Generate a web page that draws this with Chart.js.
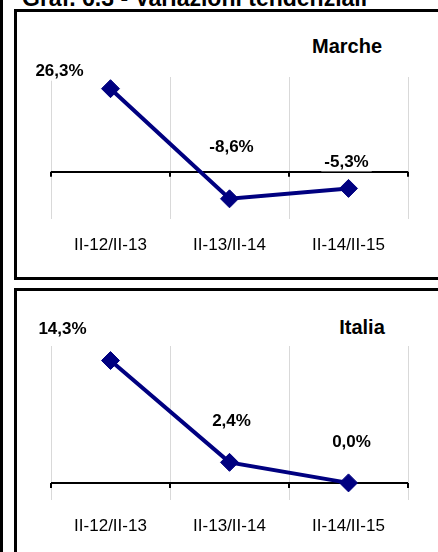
<!DOCTYPE html>
<html>
<head>
<meta charset="utf-8">
<script src="https://cdn.jsdelivr.net/npm/chart.js@4/dist/chart.umd.min.js"></script>
<style>
  body { margin: 0; width: 438px; height: 552px; overflow: hidden; background: #fff; position: relative; font-family: "Liberation Sans", Arial, sans-serif; }
  .bar { position: absolute; left: 0; top: 0; width: 3px; height: 552px; background: #000; }
  .title { position: absolute; left: 22px; top: -13.5px; font-size: 23px; line-height: 1; font-weight: bold; white-space: nowrap; }
  .panel { position: absolute; left: 14px; width: 440px; border: 3px solid #000; box-sizing: border-box; }
  .ptitle { position: absolute; width: 120px; text-align: center; font-size: 20px; line-height: 1; font-weight: bold; }
  canvas { position: absolute; left: 17px; }
</style>
</head>
<body>
<div class="bar"></div>
<div class="title">Graf. 6.3 - Variazioni tendenziali</div>
<div class="panel" style="top:9px;height:271px;"></div>
<div class="panel" style="top:288px;height:280px;"></div>
<div class="ptitle" style="left:287px;top:36px;">Marche</div>
<div class="ptitle" style="left:302px;top:317px;">Italia</div>
<canvas id="chartMarche" width="421" height="265" style="top:12px;"></canvas>
<canvas id="chartItalia" width="421" height="261" style="top:291px;"></canvas>
<script>
// data
const periods = ['II-12/II-13', 'II-13/II-14', 'II-14/II-15'];
const marcheValues = [26.3, -8.6, -5.3];
const italiaValues = [14.3, 2.4, 0.0];

// label offsets from the point (px), like the manual placement in the original
const marcheLabelOffsets = [[-51, -17], [2, -51], [-2, -26]];
const italiaLabelOffsets = [[-48, -31], [2, -41], [3, -41]];

const navy = '#000080';

function fmt(v) {
  return v.toFixed(1).replace('.', ',') + '%';
}

// tick marks on the zero line + value labels
const decoPlugin = {
  id: 'deco',
  beforeDatasetsDraw(chart) {
    const ctx = chart.ctx;
    const x = chart.scales.x, y = chart.scales.y;
    const y0 = y.getPixelForValue(0);
    ctx.save();
    ctx.strokeStyle = '#000';
    ctx.lineWidth = 2;
    for (let i = 0; i <= periods.length; i++) {
      const px = Math.round(x.getPixelForValue(i - 0.5));
      ctx.beginPath();
      ctx.moveTo(px, y0);
      ctx.lineTo(px, y0 + 5);
      ctx.stroke();
    }
    ctx.restore();
  },
  afterDatasetsDraw(chart, args, opts) {
    const ctx = chart.ctx;
    const meta = chart.getDatasetMeta(0);
    const vals = chart.data.datasets[0].data;
    ctx.save();
    ctx.font = 'bold 17px "Liberation Sans", Arial, sans-serif';
    ctx.textAlign = 'center';
    ctx.textBaseline = 'middle';
    meta.data.forEach((pt, i) => {
      const off = opts.offsets[i];
      const tx = pt.x + off[0], ty = pt.y + off[1];
      const txt = fmt(vals[i]);
      const w = ctx.measureText(txt).width;
      ctx.fillStyle = '#fff';
      ctx.fillRect(tx - w / 2 - 3, ty - 9, w + 6, 18);
      ctx.fillStyle = '#000';
      ctx.fillText(txt, tx, ty);
    });
    ctx.restore();
  }
};

function makeChart(id, values, yMin, yMax, step, offsets, padTop, xHeight) {
  return new Chart(document.getElementById(id), {
    type: 'line',
    data: {
      labels: periods,
      datasets: [{
        data: values,
        borderColor: navy,
        borderWidth: 4,
        backgroundColor: navy,
        pointStyle: 'rectRot',
        pointRadius: 9,
        pointBorderWidth: 1,
        pointBackgroundColor: navy,
        pointBorderColor: navy,
        tension: 0,
        fill: false
      }]
    },
    options: {
      responsive: false,
      animation: false,
      devicePixelRatio: 1,
      layout: { padding: { left: 34, right: 30, top: padTop, bottom: 0 } },
      plugins: {
        legend: { display: false },
        tooltip: { enabled: false },
        deco: { offsets: offsets }
      },
      scales: {
        x: {
          offset: true,
          grid: { offset: true, color: '#d9d9d9', lineWidth: 1, drawTicks: false },
          border: { display: false },
          ticks: { color: '#000', padding: 16, font: { family: '"Liberation Sans", Arial, sans-serif', size: 17 } },
          afterFit(scale) { scale.height = xHeight; }
        },
        y: {
          min: yMin,
          max: yMax,
          ticks: { display: false, stepSize: step },
          border: { display: false },
          grid: {
            drawTicks: false,
            color: c => c.tick && c.tick.value === 0 ? '#000' : 'rgba(0,0,0,0)',
            lineWidth: 2
          },
          afterFit(scale) { scale.width = 0; }
        }
      }
    },
    plugins: [decoPlugin]
  });
}

makeChart('chartMarche', marcheValues, -15, 30, 15, marcheLabelOffsets, 65, 58);
makeChart('chartItalia', italiaValues, -2, 16, 2, italiaLabelOffsets, 55, 52);
</script>
</body>
</html>
